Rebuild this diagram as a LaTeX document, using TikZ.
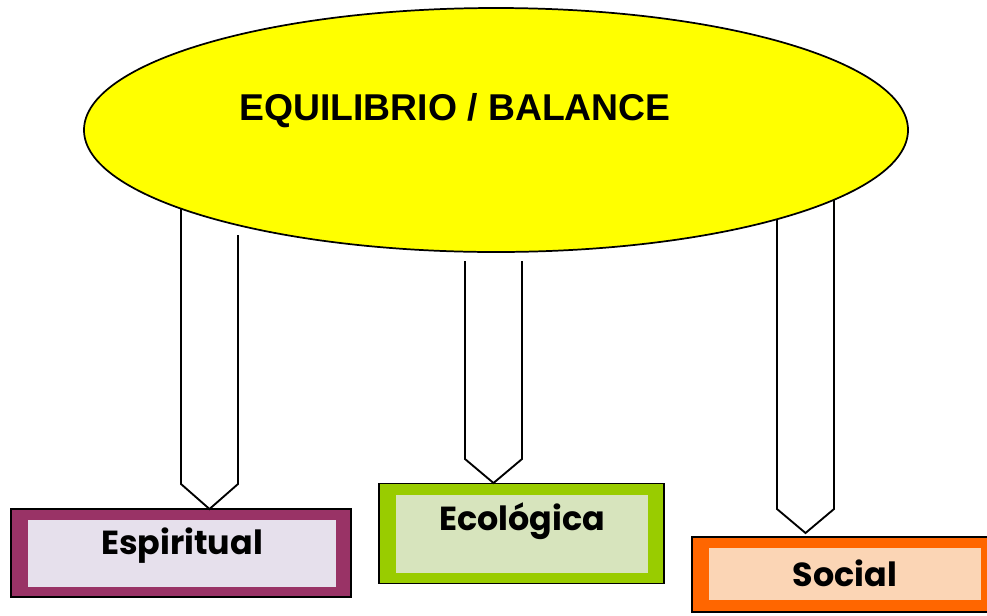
\documentclass[tikz,border=0pt]{standalone}
\usepackage{fontspec}
\setmainfont{Liberation Sans}
\newfontfamily\boxfont{Poppins}
\usetikzlibrary{shapes.geometric}
\definecolor{espdark}{HTML}{993366}
\definecolor{esplight}{HTML}{E6E0EC}
\definecolor{ecodark}{HTML}{99CC00}
\definecolor{ecolight}{HTML}{D7E4BD}
\definecolor{socdark}{HTML}{FF6600}
\definecolor{soclight}{HTML}{FBD5B5}
\definecolor{sunyellow}{HTML}{FFFF00}
\tikzset{
  outerbox/.style={draw=black, line width=1.4pt, inner sep=0pt},
  innerbox/.style={inner sep=0pt},
  boxtext/.style={font=\boxfont\bfseries\fontsize{25}{29}\selectfont, inner sep=0pt},
  pillar/.style={draw=black, line width=1.4pt, fill=white}
}
\begin{document}
\begin{tikzpicture}[x=0.75pt,y=-0.75pt]
\useasboundingbox (0,0) rectangle (987,615);
%boxes
\node[outerbox, fill=espdark, minimum width=255pt, minimum height=66pt] (espiritual) at (181,553) {};
\node[innerbox, fill=esplight, minimum width=231pt, minimum height=50pt] (espin) at (182,553.5) {};
\node[boxtext] (esptext) at (182,546) {Espiritual};
\node[outerbox, fill=ecodark, minimum width=214pt, minimum height=75pt] (ecologica) at (521.5,533.5) {};
\node[innerbox, fill=ecolight, minimum width=189pt, minimum height=59pt] (ecoin) at (522,534) {};
\node[boxtext] (ecotext) at (522,521) {Ecológica};
\node[outerbox, fill=socdark, minimum width=229.5pt, minimum height=56pt] (social) at (845,574.5) {};
\node[innerbox, fill=soclight, minimum width=204pt, minimum height=39pt] (socin) at (845,574) {};
\node[boxtext] (soctext) at (845,573) {Social};
%pillars
\coordinate (tipE) at (209.5,509);
\coordinate (tipC) at (493.5,483);
\coordinate (tipS) at (805.5,533);
\draw[pillar] (181,200)--(181,484)--(tipE)--(238,484)--(238,235);
\draw[pillar] (465,261)--(465,459)--(tipC)--(522,459)--(522,261);
\draw[pillar] (777,190)--(777,509)--(tipS)--(834,509)--(834,190);
%ellipse on top
\node[ellipse, draw=black, line width=1.3pt, fill=sunyellow, minimum width=618pt, minimum height=183pt, inner sep=0pt] (equilibrio) at (496,130) {};
\node[font=\bfseries\fontsize{28}{32}\selectfont, inner sep=0pt] (title) at (455,111) {EQUILIBRIO / BALANCE};
\end{tikzpicture}
\end{document}
